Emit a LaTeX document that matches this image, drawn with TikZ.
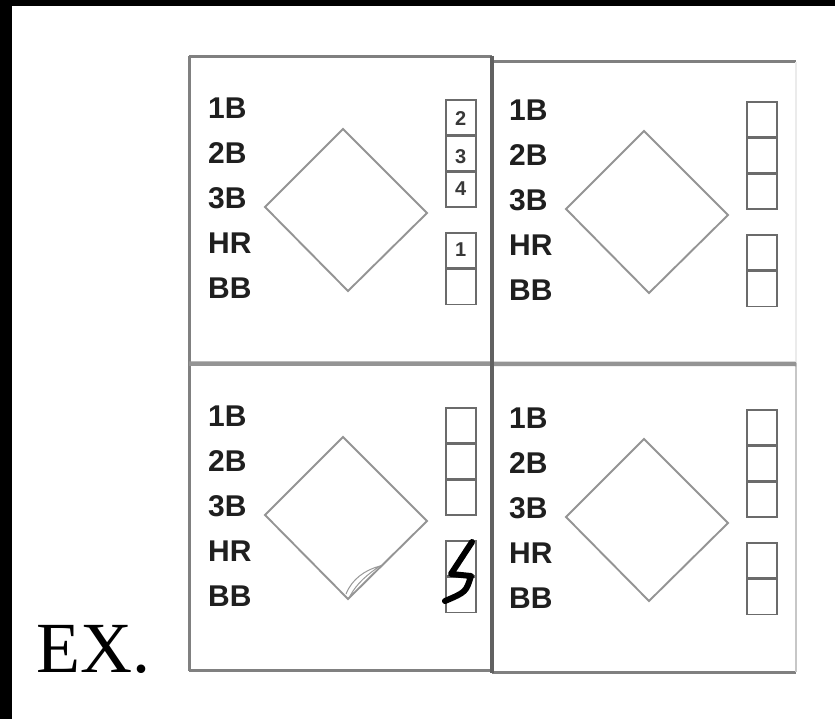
\documentclass[tikz,border=0pt]{standalone}
\usepackage{fontspec}
\setmainfont{Liberation Serif}
\newfontfamily\lblfont{Liberation Sans}
\begin{document}
\begin{tikzpicture}[x=1pt,y=-1pt,
  lbl/.style={font=\lblfont\bfseries\fontsize{30}{30}\selectfont, text=black!88, inner sep=0pt, anchor=west},
  dig/.style={font=\lblfont\bfseries\fontsize{20}{20}\selectfont, text=black!78, inner sep=0pt},
  diam/.style={draw=black!42, line width=1.9pt, line join=miter},
  sbox/.style={draw=black!58, line width=1.6pt, minimum width=30pt, inner sep=0pt, anchor=north west},
  gridline/.style={draw=black!50, line width=3pt},
  midline/.style={draw=black!42, line width=4.5pt},
  faintline/.style={draw=black!8, line width=1.5pt},
  pen/.style={draw=black, line width=6pt, line cap=round, line join=round},
  pencil/.style={draw=black!40, line width=1pt}]
\useasboundingbox (0,0) rectangle (835,719);
\fill[white] (0,0) rectangle (835,719);
\fill[black] (0,0) rectangle (835,6);
\fill[black] (0,0) rectangle (12,719);

% grid
\draw[gridline] (189,57) -- (492,57);
\draw[gridline] (492,62) -- (796,62);
\draw[gridline] (189,56) -- (189,671);
\draw[gridline] (189,670) -- (492,670);
\draw[gridline] (492,672) -- (796,672);
\draw[faintline] (796,62) -- (796,363);
\draw[draw=black!22, line width=1.8pt] (796,363) -- (796,672);
\draw[midline] (189,363.5) -- (796,364);
\draw[draw=black!62, line width=3.2pt] (492,56) -- (492,673);

% cells
\foreach \c/\dx/\dy in {a/0/0, b/301/2, c/0/308, d/301/310} {
  \begin{scope}[shift={(\dx,\dy)}]
    \foreach \t [count=\k] in {1B,2B,3B,HR,BB}
      \node[lbl] (\c-l\k) at (208,108+45*\k-45) {\t};
    \draw[diam] (265,207) -- (343,129) -- (427,213) -- (348,291) -- cycle;
    \node[sbox, minimum height=35pt] (\c-b1) at (445,99) {};
    \node[sbox, minimum height=34pt] (\c-b2) at (\c-b1.south west) {};
    \node[sbox, minimum height=35pt] (\c-b3) at (\c-b2.south west) {};
    \node[sbox, minimum height=35pt] (\c-b4) at (445,232) {};
    \node[sbox, minimum height=35pt] (\c-b5) at (\c-b4.south west) {};
  \end{scope}
}

% digits in the first cell
\node[dig] (d2) at ([yshift=-1pt]a-b1) {2};
\node[dig] (d3) at ([yshift=-3pt]a-b2) {3};
\node[dig] (d4) at ([yshift=1pt]a-b3) {4};
\node[dig] (d1) at ([yshift=1pt]a-b4) {1};

% marks in the third cell
\draw[pencil] (346,594) .. controls (352,579) and (365,570) .. (380,566)
  .. controls (368,574) and (357,583) .. (350,596);
\draw[pen] (472,542) -- (451,574) -- (471,576) .. controls (466,592) .. (445,601);

% label
\node[font=\fontsize{72}{72}\selectfont, inner sep=0pt, anchor=base west] (ex) at (36,672) {EX.};
\end{tikzpicture}
\end{document}
